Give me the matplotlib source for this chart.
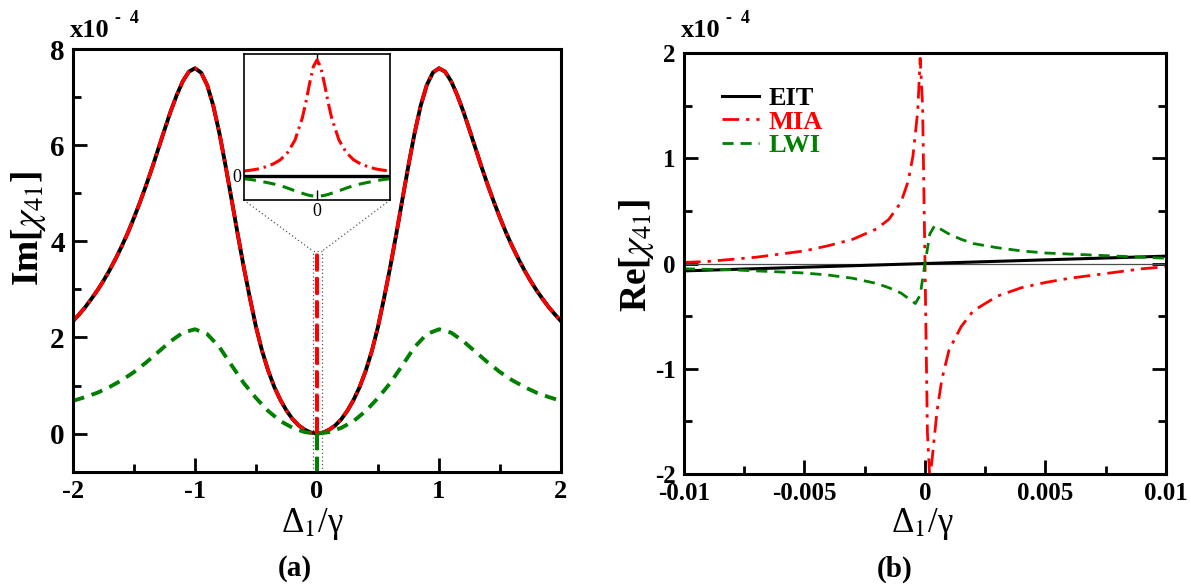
import numpy as np
import matplotlib
matplotlib.use("Agg")
import matplotlib.pyplot as plt

plt.rcParams["font.family"] = ["Liberation Serif", "DejaVu Serif"]
plt.rcParams["mathtext.fontset"] = "stix"
plt.rcParams["axes.unicode_minus"] = False


# Panel (a): Im[chi_41] in units of 1e-4, x = Delta_1/gamma
im_x = np.linspace(-2, 2, 81)
eit_im = [2.34, 2.48, 2.63, 2.80, 2.98, 3.18, 3.40, 3.64, 3.90, 4.18,
          4.49, 4.82, 5.17, 5.54, 5.93, 6.32, 6.70, 7.04, 7.33, 7.53,
          7.60, 7.51, 7.25, 6.82, 6.25, 5.58, 4.87, 4.15, 3.46, 2.82,
          2.22, 1.72, 1.31, 0.97, 0.70, 0.48, 0.30, 0.17, 0.08, 0.02,
          0.00,
          0.02, 0.08, 0.17, 0.30, 0.48, 0.70, 0.97, 1.31, 1.72, 2.22,
          2.82, 3.46, 4.15, 4.87, 5.58, 6.25, 6.82, 7.25, 7.51, 7.60,
          7.53, 7.33, 7.04, 6.70, 6.32, 5.93, 5.54, 5.17, 4.82, 4.49,
          4.18, 3.90, 3.64, 3.40, 3.18, 2.98, 2.80, 2.63, 2.48, 2.34]
mia_im = eit_im  # broad part of MIA lies on top of EIT

lwi_x = np.linspace(-2, 2, 41)
lwi_im = [0.68, 0.76, 0.85, 0.97, 1.11, 1.28, 1.48, 1.70, 1.92, 2.10,
          2.17, 2.07, 1.80, 1.42, 1.05, 0.74, 0.47, 0.26, 0.12, 0.03,
          0.00,
          0.03, 0.12, 0.26, 0.47, 0.74, 1.05, 1.42, 1.80, 2.07, 2.17,
          2.10, 1.92, 1.70, 1.48, 1.28, 1.11, 0.97, 0.85, 0.76, 0.68]

# narrow features at zero detuning
spike_x = [-0.002, 0.0, 0.002]
mia_spike = [0.0, 3.8, 0.0]
lwi_spike = [0.0, -0.9, 0.0]

# inset (zoom on the narrow features), x in units of 1e-3
ins_x = [-1.0, -0.9, -0.8, -0.7, -0.6, -0.5, -0.4, -0.3, -0.2, -0.15, -0.1, -0.05,
         0.0, 0.05, 0.1, 0.15, 0.2, 0.3, 0.4, 0.5, 0.6, 0.7, 0.8, 0.9, 1.0]
ins_mia = [0.15, 0.18, 0.22, 0.29, 0.38, 0.52, 0.76, 1.17, 1.90, 2.43, 3.04, 3.58,
           3.80, 3.58, 3.04, 2.43, 1.90, 1.17, 0.76, 0.52, 0.38, 0.29, 0.22, 0.18, 0.15]
ins_lwi = [-0.10, -0.13, -0.17, -0.22, -0.27, -0.33, -0.41, -0.50, -0.58, -0.62, -0.65, -0.67,
           -0.68, -0.67, -0.65, -0.62, -0.58, -0.50, -0.41, -0.33, -0.27, -0.22, -0.17, -0.13, -0.10]
ins_eit_x = [-1.0, 1.0]
ins_eit = [0.0, 0.0]

# Panel (b): Re[chi_41] in units of 1e-4
eit_re_x = [-0.01, 0.0, 0.01]
eit_re = [-0.07, 0.0, 0.07]

mia_re_x = [-0.01, -0.009, -0.008, -0.007, -0.006, -0.005, -0.004, -0.003, -0.002,
            -0.0015, -0.001, -0.0007, -0.0005, -0.0003, -0.0002, -0.0001, 0.0,
            0.0001, 0.0002, 0.0003, 0.0005, 0.0007, 0.001, 0.0015, 0.002, 0.003,
            0.004, 0.005, 0.006, 0.007, 0.008, 0.009, 0.01]
mia_re = [0.01, 0.02, 0.04, 0.06, 0.09, 0.12, 0.17, 0.23, 0.33,
          0.42, 0.58, 0.78, 1.02, 1.45, 1.95, 1.50, 0.00,
          -1.60, -2.05, -1.85, -1.40, -1.10, -0.82, -0.60, -0.45, -0.31,
          -0.23, -0.18, -0.14, -0.11, -0.08, -0.05, -0.03]

lwi_re_x = [-0.01, -0.008, -0.006, -0.005, -0.004, -0.003, -0.002, -0.0015, -0.001,
            -0.0007, -0.0004, -0.0002, 0.0, 0.0002, 0.0004, 0.0007, 0.001, 0.0015,
            0.002, 0.003, 0.004, 0.005, 0.006, 0.008, 0.01]
lwi_re = [-0.05, -0.06, -0.08, -0.09, -0.11, -0.14, -0.19, -0.23, -0.28,
          -0.33, -0.38, -0.30, 0.00, 0.28, 0.36, 0.32, 0.28, 0.23,
          0.19, 0.15, 0.12, 0.10, 0.09, 0.07, 0.05]

labels = ["EIT", "MIA", "LWI"]
colors = ["black", "red", "green"]


fig = plt.figure(figsize=(11.91, 5.86), dpi=100)
ax1 = fig.add_axes([0.0613, 0.1945, 0.4097, 0.7218])
ax2 = fig.add_axes([0.5743, 0.1911, 0.4047, 0.7184])

dashdot = (0, (5, 1.6, 0.8, 1.6))
dashed = (0, (3, 2))

# ---- panel (a)
ax1.plot(im_x, eit_im, color="black", lw=2.8)
ax1.plot(im_x, mia_im, color="red", lw=2.6, linestyle=dashdot)
ax1.plot(lwi_x, lwi_im, color="green", lw=2.8, linestyle=dashed)
ax1.plot(spike_x, mia_spike, color="red", lw=2.4, linestyle=(0, (5, 2)))
ax1.plot(spike_x, lwi_spike, color="green", lw=2.4, linestyle=(0, (5, 2)))

ax1.set_xlim(-2, 2)
ax1.set_ylim(-0.8, 8)
ax1.set_xticks([-2, -1, 0, 1, 2])
ax1.set_xticks([-1.5, -0.5, 0.5, 1.5], minor=True)
ax1.set_yticks([0, 2, 4, 6, 8])
ax1.set_yticks([1, 3, 5, 7], minor=True)

# dotted box around the narrow features + connector lines to the inset
box_l, box_r, box_t, box_b = -0.035, 0.045, 3.8, -0.8
ins_l, ins_r, ins_b, ins_t = -0.6, 0.6, 4.86, 7.9
dot_kw = dict(color="0.35", lw=0.9, linestyle=(0, (1, 2)))
ax1.plot([box_l, box_l, box_r, box_r], [box_b, box_t, box_t, box_b], **dot_kw)
ax1.plot([ins_l, box_l], [ins_b, box_t], **dot_kw)
ax1.plot([ins_r, box_r], [ins_b, box_t], **dot_kw)

axin = ax1.inset_axes([ins_l, ins_b, ins_r - ins_l, ins_t - ins_b], transform=ax1.transData)
axin.plot(ins_eit_x, ins_eit, color="black", lw=2.4)
axin.plot(ins_x, ins_mia, color="red", lw=2.2, linestyle=dashdot)
axin.plot(ins_x, ins_lwi, color="green", lw=2.2, linestyle=(0, (4, 2.5)))
axin.set_xlim(-1, 1)
axin.set_ylim(-0.8, 4.0)
axin.set_xticks([0])
axin.set_yticks([0])
axin.tick_params(direction="in", length=7, width=1, top=True, labelsize=13, pad=2)
for s in axin.spines.values():
    s.set_linewidth(1.2)

# ---- panel (b)
ax2.axhline(0, color="0.3", lw=0.9)
ax2.plot(eit_re_x, eit_re, color="black", lw=2.2, label=labels[0])
ax2.plot(mia_re_x, mia_re, color="red", lw=2.0, linestyle=(0, (6, 2.5, 1.2, 2.5)), label=labels[1])
ax2.plot(lwi_re_x, lwi_re, color="green", lw=2.0, linestyle=(0, (4, 2.5)), label=labels[2])

ax2.set_xlim(-0.01, 0.01)
ax2.set_ylim(-2, 2)
ax2.set_xticks([-0.01, -0.005, 0, 0.005, 0.01])
ax2.set_xticklabels(["-0.01", "-0.005", "0", "0.005", "0.01"])
ax2.set_xticks([-0.0075, -0.0025, 0.0025, 0.0075], minor=True)
ax2.set_yticks([-2, -1, 0, 1, 2])
ax2.set_yticklabels(["-2", "-1", "0", "1", "2"])
ax2.set_yticks([-1.5, -0.5, 0.5, 1.5], minor=True)

leg = ax2.legend(loc="upper left", bbox_to_anchor=(0.079, 0.92), frameon=False,
                 borderaxespad=0, borderpad=0,
                 handlelength=1.4, handletextpad=0.35, labelspacing=0.0,
                 prop={"weight": "bold", "size": 19})
for t, c in zip(leg.get_texts(), colors):
    t.set_color(c)

for ax in (ax1, ax2):
    for s in ax.spines.values():
        s.set_linewidth(2.2)
    ax.tick_params(which="major", direction="in", length=10, width=2)
    ax.tick_params(which="minor", direction="in", length=6, width=2)
    ax.tick_params(axis="both", labelsize=18, pad=6)
    for lab in ax.get_xticklabels() + ax.get_yticklabels():
        lab.set_fontweight("bold")
ax2.tick_params(which="both", right=True)
ax1.set_yticklabels(["0", "2", "4", "6", "8"], fontweight="bold", fontsize=21)
ax1.set_xticklabels(["-2", "-1", "0", "1", "2"], fontweight="bold", fontsize=19)

# scale factors
for x0 in (70, 681):
    fig.text(x0 / 1191, 1 - 37 / 586, "x10", fontsize=19, fontweight="bold")
    fig.text((x0 + 45) / 1191, 1 - 23 / 586, "-  4", fontsize=13, fontweight="bold")

# axis labels
fig.text(28 / 1191, 1 - 228 / 586, r"Im[$\chi_{41}$]", rotation=90, fontsize=27,
         fontweight="bold", ha="center", va="center")
fig.text(636 / 1191, 1 - 256 / 586, r"Re[$\chi_{41}$]", rotation=90, fontsize=27,
         fontweight="bold", ha="center", va="center")
for xc in (312, 922):
    fig.text(xc / 1191, 1 - 524 / 586, "Δ$_1$/γ", fontsize=25,
             ha="center", va="center")
fig.text(295 / 1191, 1 - 569 / 586, "(a)", fontsize=21, fontweight="bold", ha="center", va="center")
fig.text(895 / 1191, 1 - 569 / 586, "(b)", fontsize=21, fontweight="bold", ha="center", va="center")

fig.savefig("out.png", dpi=100)
